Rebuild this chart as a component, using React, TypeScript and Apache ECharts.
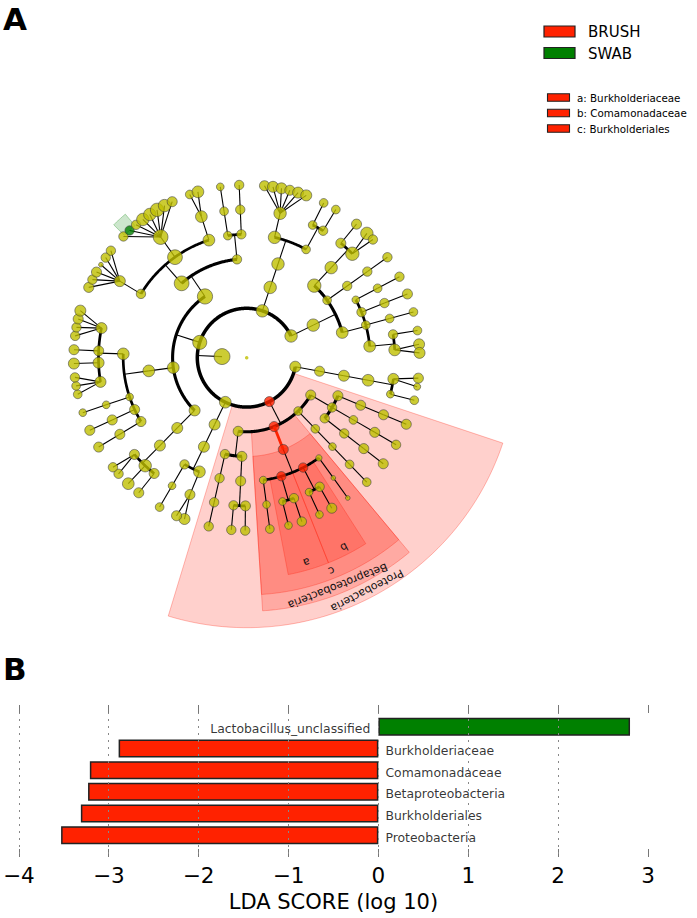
import React, { useEffect, useRef } from "react";
import * as echarts from "echarts";

// ---------------- Panel B : LDA effect sizes ----------------
const LDA_TAXA = ["Proteobacteria", "Burkholderiales", "Betaproteobacteria", "Comamonadaceae", "Burkholderiaceae", "Lactobacillus_unclassified"];
const LDA_SCORES = [-3.53, -3.31, -3.23, -3.21, -2.89, 2.8];
const LDA_GROUP = ["BRUSH", "BRUSH", "BRUSH", "BRUSH", "BRUSH", "SWAB"];
const LDA_TICKS = [-4, -3, -2, -1, 0, 1, 2, 3];

// ---------------- Panel A : cladogram ----------------
const GROUPS = ["BRUSH", "SWAB"];
const CLADE_LETTERS = ["a: Burkholderiaceae", "b: Comamonadaceae", "c: Burkholderiales"];
// taxonomy tree in a Newick-like notation: "(children)name:nodeSize"
const PHYLUM_1 = "(((((:4.3,:3):4.7,(:3.7):3.3):5):4.7):4.3):4.7";
const PROTEO_CLASS_1 = "((((:4.3):4.3):4.3):4.3,(((:4):4.3):3.7):4,(((:4.3):4.3):4):4):4.3";
const PROTEO_CLASS_2 = "((((:3.7):3.7):3.3):3.7):3.7";
const PROTEO_CLASS_3 = "((((:2):2):2.7,((:4.3):4,(:3.3):3.3)Comamonadaceae:4,((:4):4,(:3.3):3.3)Burkholderiaceae:4,((:3.7):3.3):3.3)Burkholderiales:4.3)Betaproteobacteria:4.3";
const PROTEO_CLASS_4 = "((((:4):4.3,(:4):4):4.3):4.3,(((:4):4):4):4):4.3";
const PHYLUM_3 = "(((((:4.7,:4.3):4.3):5,((:3.7):3.3):4):4.7):4.7):5";
const PHYLUM_4_CLASS_1 = "((((:4.3):4.3,(:5):5.3,(:4,:4):4.3):4.7):4.7):4.7";
const PHYLUM_4_CLASS_2 = "((((:4.3):4.3):4.3,((:4.3):4.3):4.3,((:3.3):3.3):3.3,((:3.7,:3.7,:4):4.7,(:4.7):4.7,(:4.3):4.3,(:4,:4,:4.3,:4.7):4.7):5):5):5";
const PHYLUM_4_CLASS_3 = "((((:4.3,:4,:4.3,:2,:4,:4):4.7):4,((:4,Lactobacillus_unclassified:4,:4,:5.3,:5.3,:5.7,:5.3,:4.3):6.3):6.3,((:3.7,:5):5):5):6.3,(((:3.3):3.7):3.7,((:4):4):4):4):6.5";
const PHYLUM_5 = "(((((:4.3,:4.7,:4.7,:4.3,:4.7,:4.7):5.3):5.3,((:3.7):3.7,(:3.7):4):3.7):5.3):5.3):5.3";
const PHYLUM_6 = "(((((:4.3):4.3,(:5.3,:4):5.7):5.3):5.7,(((:4):4):4):3.7,(((:4):3.7):3.3,((:4.3):4):4,((:3.7):3.7):3.7,((:3.7):4,(:4.7,:4.7):5):5):5):5.3):5.3";
const PROTEOBACTERIA = `(${PROTEO_CLASS_1},${PROTEO_CLASS_2},${PROTEO_CLASS_3},${PROTEO_CLASS_4})Proteobacteria:4.3`;
const PHYLUM_4 = `(${PHYLUM_4_CLASS_1},${PHYLUM_4_CLASS_2},${PHYLUM_4_CLASS_3}):6`;
const TREE = `((${PHYLUM_1},${PROTEOBACTERIA},${PHYLUM_3},${PHYLUM_4},${PHYLUM_5},${PHYLUM_6}):6.8):1.5`;
const HIGHLIGHTS = [
  { taxon: "Proteobacteria", group: "BRUSH", label: "Proteobacteria" },
  { taxon: "Betaproteobacteria", group: "BRUSH", label: "Betaproteobacteria" },
  { taxon: "Burkholderiales", group: "BRUSH", label: "c" },
  { taxon: "Comamonadaceae", group: "BRUSH", label: "b" },
  { taxon: "Burkholderiaceae", group: "BRUSH", label: "a" },
  { taxon: "Lactobacillus_unclassified", group: "SWAB", label: "" },
];

// ---------------- styling / layout constants ----------------
const FONT = "'DejaVu Sans', 'Liberation Sans', sans-serif";
const GROUP_COLORS: Record<string, string> = { BRUSH: "#ff2200", SWAB: "#008000" };
const GROUP_FILL: Record<string, string> = { BRUSH: "rgba(255,20,0,0.2)", SWAB: "rgba(0,128,0,0.2)" };
const GROUP_EDGE: Record<string, string> = { BRUSH: "rgba(255,20,0,0.28)", SWAB: "rgba(0,128,0,0.3)" };
const NODE_COLOR = "#bfbf00";
const NODE_SCALE = 1.17;
const LEVEL_RADIUS = 24.7;
const LEAF_GAP = [8.4, 8.4, 8.2, 7.6, 6.3, 4.6, 2.85]; // angular gap by depth of common ancestor
const FIRST_LEAF_ANGLE = 6.8;
const WEDGE_OUTER = 270;
const WEDGE_STEP = 16.4;
const WEDGE_MIN_PAD = 2.4;

type TNode = {
  name: string; size: number; children: TNode[]; depth: number; parent: TNode | null;
  angle: number; r: number; first: TNode; last: TNode; gapBefore: number; gapAfter: number;
};

function parseTree(src: string): TNode {
  const s = src.replace(/\s+/g, "");
  let i = 0;
  const read = (): TNode => {
    const n: any = { name: "", size: 4.3, children: [], depth: 0, parent: null, angle: 0, r: 0, gapBefore: 0, gapAfter: 0 };
    if (s[i] === "(") {
      i++;
      n.children.push(read());
      while (s[i] === ",") { i++; n.children.push(read()); }
      i++;
    }
    let name = "";
    while (i < s.length && ",():".indexOf(s[i]) < 0) name += s[i++];
    n.name = name;
    if (s[i] === ":") {
      i++;
      let num = "";
      while (i < s.length && /[0-9.]/.test(s[i])) num += s[i++];
      n.size = parseFloat(num);
    }
    return n as TNode;
  };
  return read();
}

function buildCladogram() {
  const root = parseTree(TREE);
  const all: TNode[] = [];
  const leaves: TNode[] = [];
  const visit = (n: TNode, d: number, p: TNode | null) => {
    n.depth = d; n.parent = p; n.r = d * LEVEL_RADIUS; all.push(n);
    if (!n.children.length) leaves.push(n);
    n.children.forEach((c) => visit(c, d + 1, n));
  };
  visit(root, 0, null);
  const lcaDepth = (a: TNode, b: TNode) => {
    const anc = new Set<TNode>();
    for (let x: TNode | null = a; x; x = x.parent) anc.add(x);
    for (let x: TNode | null = b; x; x = x.parent) if (anc.has(x)) return x.depth;
    return 0;
  };
  const L = leaves.length;
  const gaps = leaves.map((l, k) => LEAF_GAP[lcaDepth(leaves[(k - 1 + L) % L], l)]);
  const scale = 360 / gaps.reduce((a, b) => a + b, 0);
  let acc = 0;
  leaves.forEach((l, k) => {
    if (k > 0) acc += gaps[k];
    l.angle = FIRST_LEAF_ANGLE + acc * scale;
    l.gapBefore = gaps[k] * scale;
    l.gapAfter = gaps[(k + 1) % L] * scale;
    l.first = l; l.last = l;
  });
  const fill = (n: TNode) => {
    if (!n.children.length) return;
    n.children.forEach(fill);
    n.first = n.children[0].first;
    n.last = n.children[n.children.length - 1].last;
    n.angle = (n.first.angle + n.last.angle) / 2;
  };
  fill(root);

  const groupOf: Record<string, string> = {};
  HIGHLIGHTS.forEach((h) => (groupOf[h.taxon] = h.group));
  const colorOf = (n: TNode) => (n.name && groupOf[n.name] ? GROUP_COLORS[groupOf[n.name]] : NODE_COLOR);

  const edges: any[] = [];
  all.forEach((n) => {
    if (!n.children.length || n.depth === 0) return;
    const cd = n.depth + 1;
    const rc = cd * LEVEL_RADIUS;
    const leafKids = n.children.every((c) => !c.children.length);
    if (leafKids) {
      n.children.forEach((c) => edges.push({ kind: "line", r1: n.r, a1: n.angle, r2: c.r, a2: c.angle, color: "#000", width: 1.1 }));
    } else {
      const single = n.children.length === 1;
      const hot = single && groupOf[n.name] && groupOf[n.children[0].name] === groupOf[n.name];
      edges.push({ kind: "line", r1: n.r, a1: n.angle, r2: rc, a2: n.angle, color: hot ? colorOf(n) : "#000", width: hot ? 2.8 : 1.1 });
      if (!single) {
        const angs = n.children.map((c) => c.angle).concat([n.angle]);
        edges.push({ kind: "arc", r: rc, a1: Math.min(...angs), a2: Math.max(...angs), width: cd <= 2 ? 3.5 : cd <= 4 ? 3.1 : 2.7 });
      }
    }
  });

  const byName: Record<string, TNode> = {};
  all.forEach((n) => { if (n.name) byName[n.name] = n; });
  const wedges = HIGHLIGHTS.map((h) => {
    const n = byName[h.taxon];
    return {
      lo: n.first.angle - Math.max(n.first.gapBefore / 2, WEDGE_MIN_PAD),
      hi: n.last.angle + Math.max(n.last.gapAfter / 2, WEDGE_MIN_PAD),
      inner: n.r,
      outer: WEDGE_OUTER - (n.depth - 2) * WEDGE_STEP,
      group: h.group, label: h.label, depth: n.depth,
    };
  }).sort((a, b) => a.depth - b.depth);

  const nodes = all.map((n) => ({
    value: [n.r, n.angle],
    symbolSize: n.size * 2 * NODE_SCALE,
    itemStyle: {
      color: n.depth === 0 ? NODE_COLOR : colorOf(n),
      borderColor: n.depth === 0 ? "rgba(0,0,0,0)" : "#3a3a3a",
      borderWidth: n.depth === 0 ? 0 : 0.7,
    },
  }));
  return { edges, wedges, nodes };
}

function buildOption() {
  const { edges, wedges, nodes } = buildCladogram();
  const cats = ["", ...LDA_TAXA, ""];
  const pad = (g: string) => [null, ...LDA_SCORES.map((v, i) => (LDA_GROUP[i] === g ? v : null)), null];
  const minX = LDA_TICKS[0];
  const maxX = LDA_TICKS[LDA_TICKS.length - 1];
  const fmt = (v: number) => (v < 0 ? "\u2212" + Math.abs(v) : String(v));

  const graphic: any[] = [
    { type: "text", x: 3, y: 19, style: { text: "A", fontSize: 31, fontWeight: "bold", fontFamily: FONT, fill: "#000", verticalAlign: "middle" } },
    { type: "text", x: 3, y: 669, style: { text: "B", fontSize: 31, fontWeight: "bold", fontFamily: FONT, fill: "#000", verticalAlign: "middle" } },
  ];
  GROUPS.forEach((g, i) => {
    graphic.push({ type: "rect", shape: { x: 544, y: 26 + i * 21.5, width: 31, height: 11 }, style: { fill: GROUP_COLORS[g], stroke: "#222", lineWidth: 1.2 } });
    graphic.push({ type: "text", x: 588, y: 32 + i * 21.5, style: { text: g, fontSize: 15, fontFamily: FONT, fill: "#000", verticalAlign: "middle" } });
  });
  CLADE_LETTERS.forEach((t, i) => {
    graphic.push({ type: "rect", shape: { x: 547.5, y: 93.8 + i * 15.5, width: 22, height: 7.5 }, style: { fill: GROUP_COLORS.BRUSH, stroke: "#222", lineWidth: 1.1 } });
    graphic.push({ type: "text", x: 577, y: 97.8 + i * 15.5, style: { text: t, fontSize: 10.3, fontFamily: FONT, fill: "#000", verticalAlign: "middle" } });
  });

  return {
    animation: false,
    backgroundColor: "#fff",
    graphic,
    polar: { center: [246.7, 357.7], radius: 300 },
    angleAxis: { type: "value", min: 0, max: 360, startAngle: 0, clockwise: true, show: false },
    radiusAxis: { type: "value", min: 0, max: 300, show: false },
    grid: { left: 18, right: 49, top: 705, bottom: 61, containLabel: false },
    xAxis: [
      {
        type: "value", min: minX, max: maxX, interval: 1, position: "bottom",
        axisLine: { show: false },
        axisTick: { show: true, inside: true, length: 8, lineStyle: { color: "#777", width: 1 } },
        axisLabel: { fontSize: 21.5, fontFamily: FONT, color: "#000", margin: 7, formatter: fmt },
        splitLine: { show: false },
        name: "LDA SCORE (log 10)", nameLocation: "middle", nameGap: 34,
        nameTextStyle: { fontSize: 21, fontFamily: FONT, color: "#000" },
      },
      {
        type: "value", min: minX, max: maxX, interval: 1, position: "top", z: 10,
        axisLine: { show: false },
        axisTick: { show: true, inside: true, length: 8, lineStyle: { color: "#777", width: 1 } },
        axisLabel: { show: false },
        splitLine: { show: true, showMaxLine: false, lineStyle: { color: "#888", width: 1, type: [2, 5] } },
      },
    ],
    yAxis: [{ type: "category", data: cats, boundaryGap: false, show: false }],
    series: [
      {
        type: "custom", coordinateSystem: "polar", z: 1, silent: true,
        data: wedges.map((w) => [w.outer, (w.lo + w.hi) / 2]),
        renderItem: (params: any, api: any) => {
          const w = wedges[params.dataIndex];
          const K = 60;
          const pts: number[][] = [];
          for (let k = 0; k <= K; k++) pts.push(api.coord([w.outer, w.lo + ((w.hi - w.lo) * k) / K]));
          for (let k = K; k >= 0; k--) pts.push(api.coord([w.inner, w.lo + ((w.hi - w.lo) * k) / K]));
          return { type: "polygon", shape: { points: pts }, style: { fill: GROUP_FILL[w.group], stroke: GROUP_EDGE[w.group], lineWidth: 1 } };
        },
      },
      {
        type: "custom", coordinateSystem: "polar", z: 2, silent: true,
        data: edges.map((e) => (e.kind === "arc" ? [e.r, e.a1] : [e.r2, e.a2])),
        renderItem: (params: any, api: any) => {
          const e = edges[params.dataIndex];
          if (e.kind === "line") {
            const p1 = api.coord([e.r1, e.a1]);
            const p2 = api.coord([e.r2, e.a2]);
            return { type: "line", shape: { x1: p1[0], y1: p1[1], x2: p2[0], y2: p2[1] }, style: { stroke: e.color, lineWidth: e.width } };
          }
          const K = Math.max(2, Math.ceil((e.a2 - e.a1) / 0.5));
          const pts: number[][] = [];
          for (let k = 0; k <= K; k++) pts.push(api.coord([e.r, e.a1 + ((e.a2 - e.a1) * k) / K]));
          return { type: "polyline", shape: { points: pts }, style: { stroke: "#000", lineWidth: e.width, fill: "none" } };
        },
      },
      {
        type: "scatter", coordinateSystem: "polar", z: 3, silent: true, symbol: "circle",
        emphasis: { disabled: true },
        data: nodes,
      },
      {
        type: "custom", coordinateSystem: "polar", z: 4, silent: true,
        data: wedges.map((w) => [w.outer - 8, (w.lo + w.hi) / 2]),
        renderItem: (params: any, api: any) => {
          const w = wedges[params.dataIndex];
          const mid = (w.lo + w.hi) / 2;
          const p = api.coord([w.outer - 8, mid]);
          return {
            type: "text", x: p[0], y: p[1], rotation: (-(mid + 90) * Math.PI) / 180,
            style: { text: w.label, fontSize: 11, fontFamily: FONT, fill: "#111", align: "center", verticalAlign: "middle" },
          };
        },
      },
      {
        type: "bar", name: "BRUSH", xAxisIndex: 0, yAxisIndex: 0, barWidth: 18, barGap: "-100%", silent: true,
        data: pad("BRUSH"),
        itemStyle: { color: GROUP_COLORS.BRUSH, borderColor: "#222", borderWidth: 1.5 },
      },
      {
        type: "bar", name: "SWAB", xAxisIndex: 0, yAxisIndex: 0, barWidth: 18, barGap: "-100%", silent: true,
        data: pad("SWAB"),
        itemStyle: { color: GROUP_COLORS.SWAB, borderColor: "#222", borderWidth: 1.5 },
      },
      {
        type: "scatter", xAxisIndex: 0, yAxisIndex: 0, z: 6, silent: true, symbolSize: 0.1,
        itemStyle: { color: "rgba(0,0,0,0)" },
        data: LDA_TAXA.map((t, i) => ({
          value: [0, t],
          label: {
            show: true, position: LDA_SCORES[i] < 0 ? "right" : "left", distance: LDA_SCORES[i] < 0 ? 7 : 8,
            formatter: t, fontSize: 12.4, fontFamily: FONT, color: "#000", offset: [0, 2],
          },
        })),
      },
    ],
  };
}

export default function App() {
  const ref = useRef<HTMLDivElement>(null);
  useEffect(() => {
    const chart = echarts.init(ref.current as HTMLDivElement, null, { renderer: "svg" });
    chart.setOption(buildOption() as any);
    return () => chart.dispose();
  }, []);
  return <div ref={ref} style={{ position: "absolute", left: 0, top: 0, width: 697, height: 918, background: "#fff" }} />;
}
